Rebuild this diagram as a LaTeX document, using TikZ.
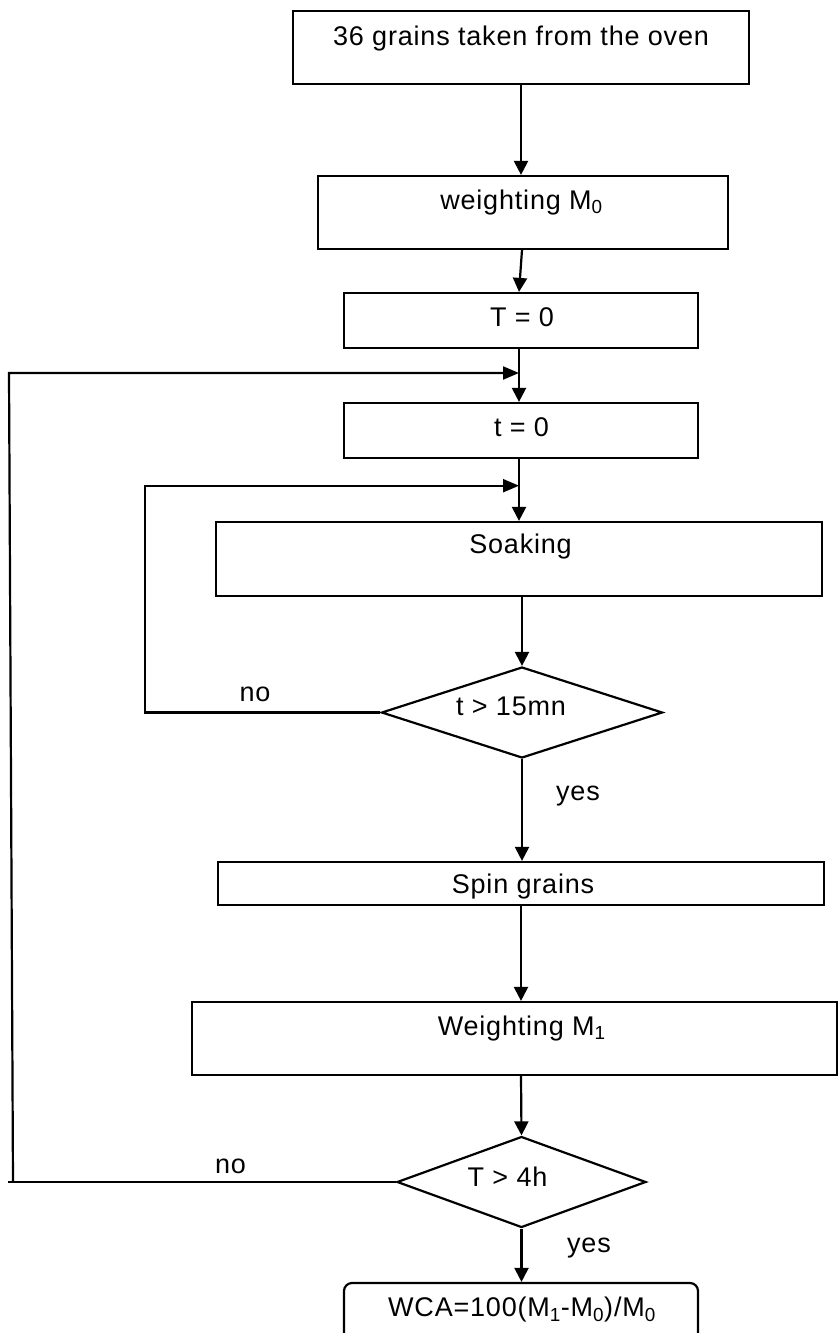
\documentclass[tikz,border=0pt]{standalone}
\usepackage{fontspec}
\setmainfont{Liberation Sans}[LetterSpace=3]
\usetikzlibrary{shapes.geometric,arrows.meta}
\begin{document}
\begin{tikzpicture}[x=1pt,y=-1pt,
  line width=2.2pt,
  every node/.style={font=\fontsize{27pt}{32pt}\selectfont},
  box/.style={draw, rectangle, inner sep=0pt},
  dec/.style={draw, diamond, inner sep=0pt},
  txt/.style={anchor=base, inner sep=0pt},
  arr/.style={-{Triangle[length=14pt,width=14pt]}},
  rarr/.style={-{Triangle[length=16pt,width=13pt]}}]
\useasboundingbox (0,0) rectangle (839,1333);
\clip (0,0) rectangle (839,1333);

% boxes
\node[box, minimum width=456pt, minimum height=73pt] (b1) at (521,47.5) {};
\node[box, minimum width=410pt, minimum height=73pt] (b2) at (523,212.5) {};
\node[box, minimum width=354pt, minimum height=55pt] (b3) at (521,320.5) {};
\node[box, minimum width=354pt, minimum height=55pt] (t0) at (521,430.5) {};
\node[box, minimum width=606pt, minimum height=74pt] (soak) at (519,559) {};
\node[dec, minimum width=281pt, minimum height=91pt] (d1) at (522,712.5) {};
\node[box, minimum width=606pt, minimum height=43pt] (spin) at (521,883.5) {};
\node[box, minimum width=645pt, minimum height=73pt] (w1) at (514.5,1038.5) {};
\node[dec, minimum width=249pt, minimum height=91pt] (d2) at (521.5,1182) {};
\node[box, rounded corners=8pt, minimum width=354pt, minimum height=62pt] (res) at (521,1314) {};

% texts
\node[txt] (b1t) at (521,45) {36 grains taken from the oven};
\node[txt] (b2t) at (521.5,209) {weighting M\textsubscript{0}};
\node[txt] (b3t) at (522,326) {T = 0};
\node[txt] (t0t) at (521.5,436.7) {t = 0};
\node[txt] (soakt) at (520.5,553) {Soaking};
\node[txt] (d1t) at (511,715) {t > 15mn};
\node[txt] (no1) at (255,701) {no};
\node[txt] (yes1) at (578,800) {yes};
\node[txt] (spint) at (523,893) {Spin grains};
\node[txt] (w1t) at (521.7,1035) {Weighting M\textsubscript{1}};
\node[txt] (d2t) at (507.5,1186.7) {T > 4h};
\node[txt] (no2) at (230.5,1173) {no};
\node[txt] (yes2) at (589,1252.7) {yes};
\node[txt] (rest) at (522,1316.7) {WCA=100(M\textsubscript{1}-M\textsubscript{0})/M\textsubscript{0}};

% loop coordinates
\coordinate (j1) at (519,373);
\coordinate (oT) at (9,373);
\coordinate (oB) at (13,1182);
\coordinate (oE) at (8,1182);
\coordinate (j2) at (519,485.7);
\coordinate (iL) at (144.7,485.7);
\coordinate (iB) at (144.7,712.5);

% connectors
\draw[arr] (b1.south) -- (b1.south |- b2.north);
\draw[arr] ([xshift=-1pt]b2.south) -- ([xshift=-2pt]b3.north);
\draw[arr] ([xshift=-2pt]b3.south) -- ([xshift=-2pt]t0.north);
\draw[arr] ([xshift=-2pt]t0.south) -- (soak.north);
\draw[arr] (soak.south -| d1.north) -- (d1.north);
\draw[rarr] (d1.west) -- (iB) -- (iL) -- (j2);
\draw[arr] (d1.south) -- (d1.south |- spin.north);
\draw[arr] (spin.south) -- (spin.south |- w1.north);
\draw[arr] (spin.south |- w1.south) -- (d2.north);
\draw (d2.west) -- (oE);
\draw[rarr] (oB) -- (oT) -- (j1);
\draw[arr] (d2.south) -- (d2.south |- res.north);
\end{tikzpicture}
\end{document}
